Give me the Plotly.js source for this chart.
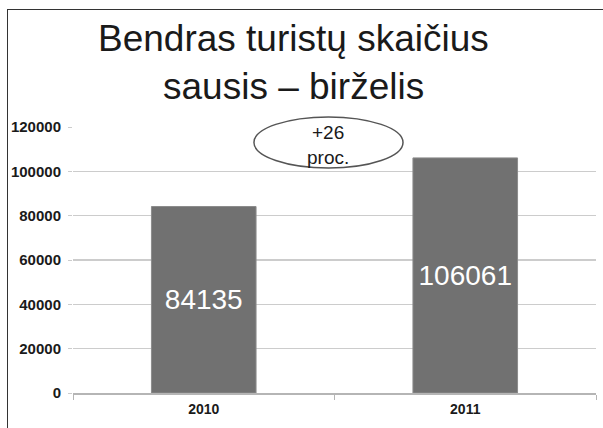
<!DOCTYPE html>
<html>
<head>
<meta charset="utf-8">
<script src="https://cdn.plot.ly/plotly-3.0.1.min.js"></script>
<style>
  html, body { margin: 0; padding: 0; background: #fff; overflow: hidden; }
  #chart { width: 603px; height: 428px; }
  #frame { position: absolute; left: 7px; top: 9px; width: 700px; height: 600px;
           border-left: 1.5px solid #333; border-top: 1.5px solid #333; pointer-events: none; }
</style>
</head>
<body>
<div id="chart"></div>
<div id="frame"></div>
<script>
const categories = ["2010", "2011"];
const tourists = [84135, 106061];
const tickValues = [0, 20000, 40000, 60000, 80000, 100000, 120000];
const titleLines = ["Bendras turistų skaičius", "sausis – birželis"];
const growthNote = ["+26", "proc."];

const FONT = "Liberation Sans, Arial, sans-serif";

const trace = {
  type: "bar",
  x: categories,
  y: tourists,
  text: tourists.map(String),
  textposition: "inside",
  insidetextanchor: "middle",
  textangle: 0,
  textfont: { family: FONT, size: 28, color: "#ffffff" },
  marker: { color: "#717171", line: { color: "#8c8c8c", width: 1 } },
  hoverinfo: "none"
};

const titleY = [1.331, 1.152];

const layout = {
  width: 603, height: 428,
  margin: { l: 73, r: 7, t: 127, b: 35, pad: 0 },
  paper_bgcolor: "rgba(0,0,0,0)",
  plot_bgcolor: "#ffffff",
  bargap: 0.6,
  showlegend: false,
  font: { family: FONT, color: "#1a1a1a" },
  xaxis: {
    type: "category",
    tickvals: categories,
    ticktext: categories,
    showline: true, linecolor: "#b5b5b5", linewidth: 1.5,
    ticks: "outside", tickson: "boundaries", ticklen: 5, tickcolor: "#b5b5b5",
    ticklabelstandoff: 3,
    tickfont: { family: FONT, size: 14, color: "#1a1a1a", weight: "bold" },
    showgrid: false, zeroline: false,
    fixedrange: true
  },
  yaxis: {
    range: [0, 120000],
    tickvals: tickValues,
    tickformat: "d",
    showgrid: true, gridcolor: "#cccccc", gridwidth: 1.5,
    zeroline: false, showline: false,
    ticks: "outside", ticklen: 4, tickcolor: "#cccccc",
    ticklabelstandoff: 4,
    tickfont: { family: FONT, size: 15, color: "#1a1a1a", weight: "bold" },
    fixedrange: true
  },
  shapes: [{
    type: "circle", xref: "paper", yref: "paper",
    x0: 0.346, x1: 0.631, y0: 0.846, y1: 1.038,
    fillcolor: "#ffffff", line: { color: "#555555", width: 1.5 },
    layer: "above"
  }],
  annotations: titleLines.map((t, i) => ({
    xref: "paper", yref: "paper", x: 0.4216, y: titleY[i],
    xanchor: "center", yanchor: "middle",
    text: t, showarrow: false,
    font: { family: FONT, size: 37, color: "#1a1a1a" }
  })).concat([{
    xref: "paper", yref: "paper", x: 0.4885, y: 0.933,
    xanchor: "center", yanchor: "middle",
    text: growthNote.join("<br>"),
    showarrow: false,
    font: { family: FONT, size: 19, color: "#1a1a1a" }
  }])
};

Plotly.newPlot("chart", [trace], layout, { displayModeBar: false, staticPlot: true });
</script>
</body>
</html>
